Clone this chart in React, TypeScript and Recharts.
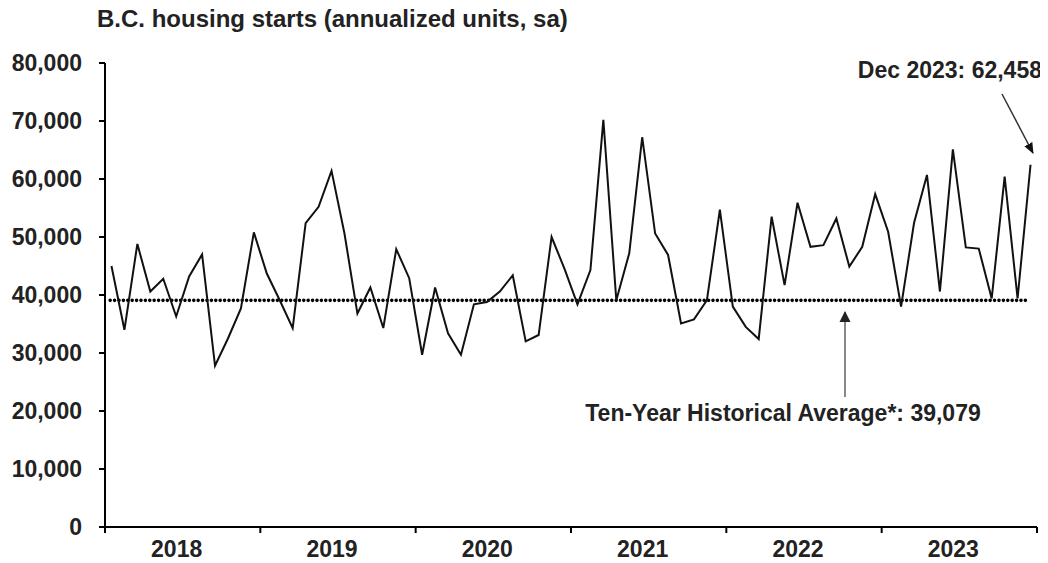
import { CartesianGrid, Customized, Line, LineChart, ReferenceLine, XAxis, YAxis } from 'recharts'

const years = ['2018', '2019', '2020', '2021', '2022', '2023']

// monthly starts, Jan 2018 .. Dec 2023
const starts = [
  45000, 34000, 48800, 40600, 42800, 36300, 43200, 47000, 27800, 32500, 37700, 50800,
  43700, 39100, 34300, 52400, 55200, 61400, 50600, 36800, 41300, 34300, 47900, 42900,
  29700, 41300, 33400, 29700, 38400, 38800, 40600, 43400, 32000, 33100, 50000, 44500,
  38400, 44300, 70200, 39100, 47200, 67200, 50600, 46900, 35100, 35800, 39100, 54700,
  38000, 34500, 32400, 53500, 41700, 55900, 48300, 48600, 53200, 44900, 48300, 57400,
  50900, 38000, 52400, 60700, 40600, 65100, 48200, 48000, 39400, 60400, 39400, 62458,
]

const yTicks = [0, 10000, 20000, 30000, 40000, 50000, 60000, 70000, 80000]
const xTicks = [0, 6, 12, 18, 24, 30, 36, 42, 48, 54, 60, 66, 72]

const tenYearAvg = 39079
const latestLabel = 'Dec 2023: 62,458'
const avgLabel = 'Ten-Year Historical Average*: 39,079'
const title = 'B.C. housing starts (annualized units, sa)'

const data = starts.map((v, i) => ({ idx: i + 0.5, value: v }))

const font = 'Arial, "Liberation Sans", sans-serif'
const txt = '#222'

const YearTick = (props: any) => {
  const { x, y, payload } = props
  const v = payload.value as number
  if (v % 12 === 0) {
    return <line x1={x} x2={x} y1={y} y2={y + 6} stroke="#000" strokeWidth={2} />
  }
  return (
    <text x={x - 6} y={y + 30} textAnchor="middle" fontFamily={font} fontWeight="bold" fontSize={23} fill={txt}>
      {years[Math.floor(v / 12)]}
    </text>
  )
}

const Annotations = () => (
  <g fontFamily={font} fontWeight="bold" fill={txt}>
    <defs>
      <marker id="headBlack" markerWidth="11" markerHeight="10" refX="10" refY="5" orient="auto" markerUnits="userSpaceOnUse">
        <path d="M0,0.5 L11,5 L0,9.5 z" fill="#111" />
      </marker>
      <marker id="headDark" markerWidth="11" markerHeight="12" refX="10" refY="6" orient="auto" markerUnits="userSpaceOnUse">
        <path d="M0,0.5 L11,6 L0,11.5 z" fill="#222" />
      </marker>
    </defs>
    <text x={1034} y={70} fontSize={23} textAnchor="end">{latestLabel}</text>
    <line x1={994} y1={86} x2={1025} y2={145} stroke="#333" strokeWidth={1.5} markerEnd="url(#headBlack)" />
    <text x={775} y={413} fontSize={23} textAnchor="middle">{avgLabel}</text>
    <line x1={837} y1={389} x2={837} y2={304} stroke="#888" strokeWidth={2} markerEnd="url(#headDark)" />
  </g>
)

export default function App() {
  return (
    <div style={{ position: 'relative', width: 1040, height: 555 }}>
      <div
        style={{
          position: 'absolute',
          left: 89,
          top: -1,
          fontFamily: font,
          fontWeight: 'bold',
          fontSize: 24,
          lineHeight: '24px',
          color: txt,
          whiteSpace: 'nowrap',
        }}
      >
        {title}
      </div>
      <LineChart width={1040} height={555} data={data} margin={{ top: 55, right: 11, left: 0, bottom: 0 }}>
        <CartesianGrid stroke="none" />
        <XAxis
          dataKey="idx"
          type="number"
          domain={[0, 72]}
          ticks={xTicks}
          interval={0}
          height={36}
          tickSize={0}
          tickMargin={0}
          tickLine={false}
          axisLine={{ stroke: '#000', strokeWidth: 2 }}
          tick={<YearTick />}
        />
        <YAxis
          type="number"
          domain={[0, 80000]}
          ticks={yTicks}
          interval={0}
          width={97}
          tickSize={6}
          tickMargin={17}
          axisLine={{ stroke: '#000', strokeWidth: 2 }}
          tickLine={{ stroke: '#000', strokeWidth: 2 }}
          tick={{ fill: txt, fontSize: 23, fontWeight: 'bold', fontFamily: font }}
          tickFormatter={(v: number) => v.toLocaleString('en-US')}
        />
        <ReferenceLine
          segment={[{ x: 0.4, y: tenYearAvg }, { x: 71.3, y: tenYearAvg }]}
          stroke="#000"
          strokeWidth={3.6}
          strokeDasharray="0 4.4"
          strokeLinecap="round"
        />
        <Line
          type="linear"
          dataKey="value"
          stroke="#111"
          strokeWidth={2}
          dot={false}
          activeDot={false}
          isAnimationActive={false}
        />
        <Customized component={Annotations} />
      </LineChart>
    </div>
  )
}
